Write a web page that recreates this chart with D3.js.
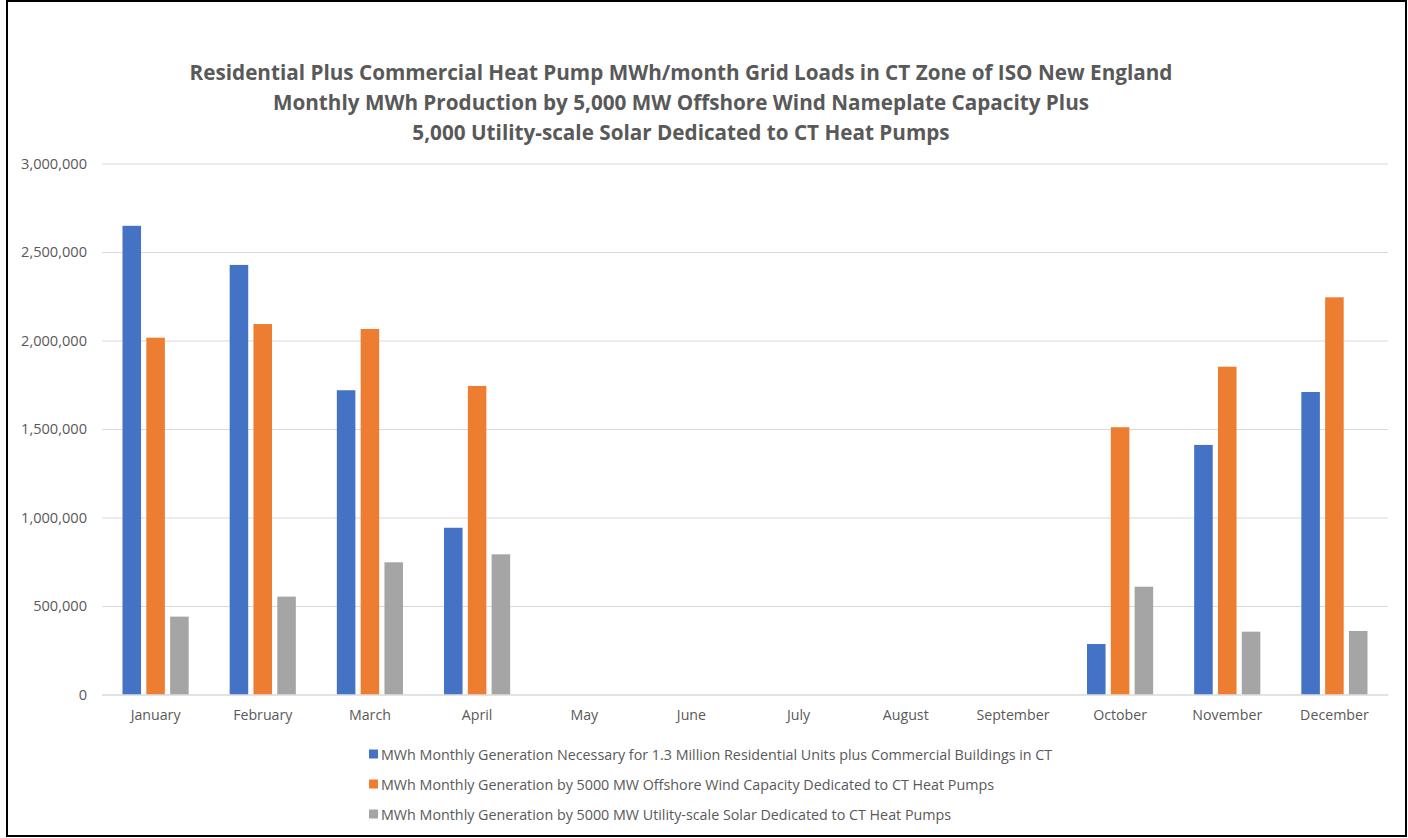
<!DOCTYPE html>
<html>
<head>
<meta charset="utf-8">
<script src="https://cdn.jsdelivr.net/npm/d3@7"></script>
<style>
  html, body { margin: 0; padding: 0; background: #ffffff; }
  svg { display: block; }
  text { font-family: "Open Sans", Lato, "Liberation Sans", sans-serif; }
</style>
</head>
<body>
<svg id="chart" width="1408" height="838"></svg>
<script>
// Month categories along the x axis
const months = ["January", "February", "March", "April", "May", "June",
  "July", "August", "September", "October", "November", "December"];

// Series names shown in the legend
const seriesNames = [
  "MWh Monthly Generation Necessary for 1.3 Million Residential Units plus Commercial Buildings in CT",
  "MWh Monthly Generation by 5000 MW Offshore Wind Capacity Dedicated to CT Heat Pumps",
  "MWh Monthly Generation by 5000 MW Utility-scale Solar Dedicated to CT Heat Pumps"
];

// MWh per month for each series (no heating load modelled May–September)
const heatPumpLoad = [2648000, 2427000, 1719000, 942000, 0, 0, 0, 0, 0, 285000, 1410000, 1709000];
const offshoreWind = [2016000, 2093000, 2065000, 1743000, 0, 0, 0, 0, 0, 1510000, 1852000, 2244000];
const utilitySolar = [440000, 553000, 747000, 792000, 0, 0, 0, 0, 0, 609000, 355000, 359000];

// Y axis tick values
const yTicks = [0, 500000, 1000000, 1500000, 2000000, 2500000, 3000000];

const titleLines = [
  "Residential Plus Commercial Heat Pump MWh/month Grid Loads in CT Zone of ISO New England",
  "Monthly MWh Production by 5,000 MW Offshore Wind Nameplate Capacity Plus",
  "5,000 Utility-scale Solar Dedicated to CT Heat Pumps"
];

const colors = ["#4472C4", "#ED7D31", "#A5A5A5"];
const seriesValues = [heatPumpLoad, offshoreWind, utilitySolar];

const svg = d3.select("#chart");
const W = 1408, H = 838;
const plot = { left: 102, right: 1388, top: 163.5, bottom: 694.5 };
const textGray = "#595959";
const fontStack = "'Open Sans', Lato, sans-serif";

// Frame around the whole chart
svg.append("rect")
  .attr("x", 7).attr("y", 1).attr("width", W - 9).attr("height", H - 3)
  .attr("fill", "#ffffff").attr("stroke", "#000000").attr("stroke-width", 2);

// Title
const title = svg.append("g");
const titleY = [80, 110, 140];
titleLines.forEach((t, i) => {
  title.append("text")
    .attr("x", 681).attr("y", titleY[i])
    .attr("text-anchor", "middle")
    .attr("fill", textGray)
    .attr("font-size", 20.7)
    .attr("font-weight", "bold")
    .text(t);
});

// Scales
const x = d3.scaleBand().domain(months).range([plot.left, plot.right]).padding(0);
const inner = d3.scaleBand().domain(d3.range(3))
  .range([20.5, x.bandwidth() - 20.5]).paddingInner(0.221).paddingOuter(0);
const y = d3.scaleLinear().domain([0, 3000000]).range([plot.bottom, plot.top]);

// Gridlines and y labels
const yAxis = d3.axisLeft(y).tickValues(yTicks).tickFormat(d3.format(","))
  .tickSize(-(plot.right - plot.left)).tickPadding(15);
const gy = svg.append("g").attr("transform", `translate(${plot.left},0)`).call(yAxis);
gy.select(".domain").remove();
gy.selectAll(".tick line").attr("stroke", "#d9d9d9").attr("stroke-width", 1);
gy.selectAll(".tick text").attr("fill", textGray).attr("font-size", 14.6)
  .style("font-family", fontStack);

// Bars
const groups = svg.append("g").selectAll("g")
  .data(months)
  .join("g")
  .attr("transform", d => `translate(${x(d)},0)`);

groups.selectAll("rect")
  .data((m, i) => seriesValues.map((vals, s) => ({ s, v: vals[i] })))
  .join("rect")
  .attr("x", d => inner(d.s))
  .attr("width", inner.bandwidth())
  .attr("y", d => y(d.v))
  .attr("height", d => y(0) - y(d.v))
  .attr("fill", d => colors[d.s]);

// X axis labels
const xAxis = d3.axisBottom(x).tickSize(0).tickPadding(15);
const gx = svg.append("g").attr("transform", `translate(0,${plot.bottom})`).call(xAxis);
gx.select(".domain").attr("stroke", "#d9d9d9");
gx.selectAll(".tick text").attr("fill", textGray).attr("font-size", 14.2)
  .style("font-family", fontStack);

// Legend
const legend = svg.append("g").attr("transform", "translate(369,0)");
const legendY = [754, 784, 814];
seriesNames.forEach((name, i) => {
  legend.append("rect")
    .attr("x", 0).attr("y", legendY[i] - 4.5).attr("width", 9).attr("height", 9)
    .attr("fill", colors[i]);
  legend.append("text")
    .attr("x", 12).attr("y", legendY[i])
    .attr("dominant-baseline", "central")
    .attr("fill", textGray).attr("font-size", 14.3)
    .text(name);
});
</script>
</body>
</html>
